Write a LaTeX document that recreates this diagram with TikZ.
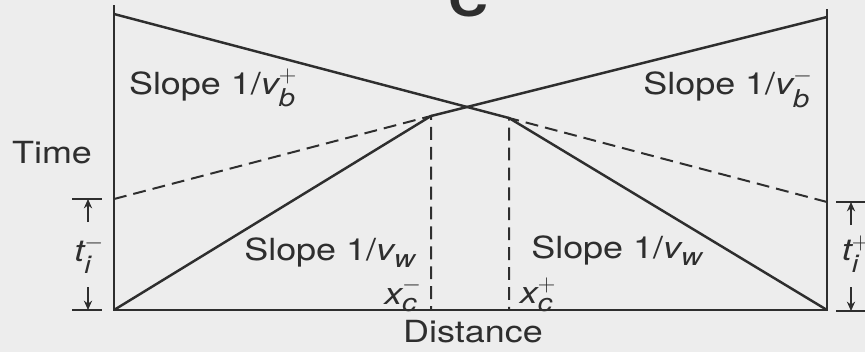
\documentclass[tikz,border=0pt]{standalone}
\usepackage{amsmath}
\usepackage{fontspec}
\setmainfont[FakeStretch=1.18]{TeX Gyre Heros}
\usetikzlibrary{arrows.meta}

\DeclareMathSizes{26}{26}{21}{16}
\newcommand{\qty}[3]{$\textit{#1}_{\textit{#2}}^{#3}$}

\begin{document}
\begin{tikzpicture}[
    x=0.03cm, y=-0.03cm,
    ink/.style={black!82},
    every node/.style={font=\fontsize{26}{30}\selectfont, inner sep=0pt, text=black!82},
    axis/.style={ink, line width=2.4pt},
    ray/.style={ink, line width=2.1pt},
    guide/.style={ink, line width=1.7pt, dash pattern=on 11pt off 6pt},
    tick/.style={ink, line width=1.7pt},
    dim/.style={ink, line width=1.7pt, -{Stealth[length=8pt,width=7pt]}}
]
  \useasboundingbox[fill=black!7] (0,0) rectangle (865,352);

  % Corner and turning points
  \coordinate (top0) at (114,5);
  \coordinate (orig) at (114,310);
  \coordinate (end)  at (827,310);
  \coordinate (top1) at (827,9);
  \coordinate (bpl)  at (114,14);
  \coordinate (bmr)  at (827,17);
  \coordinate (peakm) at (431,116);
  \coordinate (peakp) at (509,118);
  \coordinate (dml)  at (114,199);
  \coordinate (dpr)  at (827,202);
  \coordinate (footm) at (431,310);
  \coordinate (footp) at (509,310);

  % Axes
  \draw[axis] (top0) -- (orig) -- (end) -- (top1);

  % Solid rays
  \draw[ray] (bpl) -- (peakp) -- (end);
  \draw[ray] (bmr) -- (peakm) -- (orig);

  % Dashed rays and drops
  \draw[guide] (dml) -- (peakm) -- (footm);
  \draw[guide] (dpr) -- (peakp) -- (footp);

  % Interval marks
  \coordinate (lta) at (72,199);  \coordinate (ltb) at (102,199);
  \coordinate (lba) at (72,310);  \coordinate (lbb) at (102,310);
  \coordinate (rta) at (836,202); \coordinate (rtb) at (865,202);
  \coordinate (rba) at (836,311); \coordinate (rbb) at (865,311);
  \draw[tick] (lta) -- (ltb);
  \draw[tick] (lba) -- (lbb);
  \draw[tick] (rta) -- (rtb);
  \draw[tick] (rba) -- (rbb);

  \node (timin)  at (89,254)  {\qty{t}{i}{-}};
  \node (timax)  at (856,254) {\qty{t}{i}{+}};
  \coordinate (lmt) at (88,199);  \coordinate (lmb) at (88,310);
  \coordinate (rmt) at (851,202); \coordinate (rmb) at (851,311);
  \coordinate (lst) at (88,222);  \coordinate (lsb) at (88,287);
  \coordinate (rst) at (851,225); \coordinate (rsb) at (851,287);
  \draw[dim] (lst) -- (lmt);
  \draw[dim] (lsb) -- (lmb);
  \draw[dim] (rst) -- (rmt);
  \draw[dim] (rsb) -- (rmb);

  % Labels
  \node (panel) [anchor=base, font=\fontsize{40}{42}\selectfont\bfseries] at (468,16) {C};
  \node (time)  at (52,153)  {Time};
  \node (dist)  at (473,332) {Distance};
  \node (sbp)   at (213,88)  {Slope 1/\qty{v}{b}{+}};
  \node (sbm)   at (728,88)  {Slope 1/\qty{v}{b}{-}};
  \node (swl)   at (330,253) {Slope 1/\qty{v}{w}{}};
  \node (swr)   at (617,251) {Slope 1/\qty{v}{w}{}};
  \node (xcm)   at (403,295) {\qty{x}{c}{-}};
  \node (xcp)   at (538,295) {\qty{x}{c}{+}};
\end{tikzpicture}
\end{document}
